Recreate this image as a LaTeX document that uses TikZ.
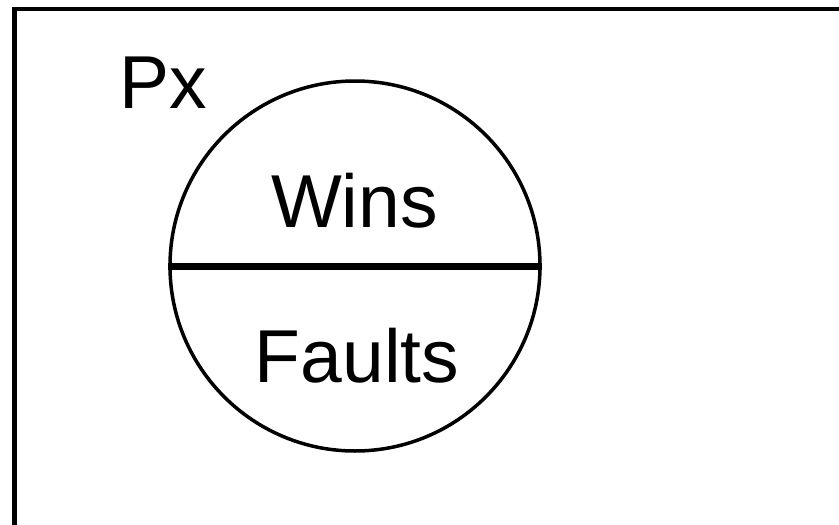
\documentclass[tikz,border=0pt]{standalone}
\usepackage{fontspec}
\setmainfont{Liberation Sans}
\usetikzlibrary{positioning}

\begin{document}
\begin{tikzpicture}[x=1pt,y=-1pt,
    lbl/.style={inner sep=0pt,anchor=base,font=\fontsize{75}{90}\selectfont},
    rim/.style={draw,circle,line width=3.5pt,minimum size=370pt,inner sep=0pt}]
 \clip (0,0) rectangle (839,525);
 \draw[line width=4.5pt] (14.5,9) rectangle (845,530);
 \node[rim] (px) at (355,266) {};
 \draw[line width=7pt] (px.west) -- (px.east);
 \node[lbl] (wins) at (354.5,227) {Wins};
 \node[lbl] (faults) at (357,382) {Faults};
 \node[lbl,anchor=base west] (name) at (119,108) {Px};
\end{tikzpicture}
\end{document}
